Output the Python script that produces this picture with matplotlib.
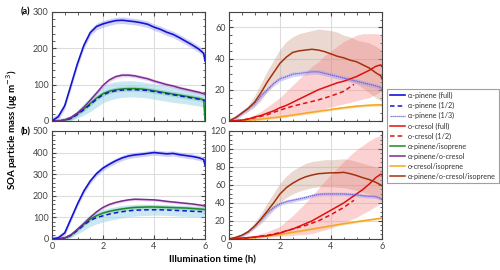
import numpy as np
import matplotlib
matplotlib.use("Agg")
import matplotlib.pyplot as plt
from matplotlib.ticker import MultipleLocator
from matplotlib.lines import Line2D

plt.rcParams["font.family"] = ["Lato", "DejaVu Sans"]

# time grid (h)
t = [0, 0.25, 0.5, 0.75, 1.0, 1.25, 1.5, 1.75, 2.0, 2.25, 2.5, 2.75, 3.0,
     3.25, 3.5, 3.75, 4.0, 4.25, 4.5, 4.75, 5.0, 5.25, 5.5, 5.75, 5.95, 6.0]
t_half = [0, 0.5, 1.0, 1.5, 2.0, 2.5, 3.0, 3.5, 4.0, 4.5, 4.9]

# ---- panel (a), left ----
apin_full_a = [0, 12, 42, 100, 158, 208, 243, 260, 267, 272, 276, 277, 275,
               273, 270, 266, 258, 252, 244, 238, 229, 219, 209, 198, 186, 165]
apin_cres_a = [0, 0, 3, 10, 22, 38, 57, 77, 98, 113, 122, 126, 126,
               124, 120, 116, 110, 105, 100, 96, 91, 87, 83, 79, 75, 73]
apin_iso_a = [0, 0, 2, 8, 20, 33, 48, 63, 75, 82, 86, 88, 89,
              89, 88, 86, 83, 80, 77, 74, 71, 68, 65, 62, 58, 0]
apin_half_a = [0, 0, 2, 7, 18, 31, 45, 60, 72, 79, 83, 85, 86,
               86, 85, 84, 81, 78, 75, 72, 69, 66, 63, 60, 57, 55]
half_lo_a = [0, 0, 0, 2, 8, 16, 26, 38, 50, 57, 62, 65, 66,
             66, 65, 63, 60, 57, 54, 51, 49, 47, 44, 41, 38, 36]
half_hi_a = [0, 0, 5, 14, 30, 48, 66, 84, 96, 104, 108, 110, 111,
             110, 108, 105, 102, 99, 96, 93, 90, 87, 83, 78, 73, 70]

# ---- panel (a), right ----
brown_a = [0, 2, 5, 8, 12, 18, 25, 31, 37, 41, 44, 45, 45.5,
           46, 45.5, 44.5, 43, 41.5, 40.5, 39, 38, 36, 34, 31, 29, 27]
brown_lo_a = [0, 1.5, 4, 6, 9, 13, 19, 24, 28, 30, 31, 32, 32,
              32, 32, 31, 30, 29, 27, 25.5, 24, 21, 18, 15, 13, 12]
brown_hi_a = [0, 2.5, 6, 10, 16, 24, 32, 39, 46, 51, 54, 56, 57,
              58, 59, 58.5, 58, 57, 55, 54, 52, 51, 50, 48, 46, 44]
apin_third_a = [0, 2, 5, 8, 11, 16, 20, 24, 27, 28.5, 30, 30.5, 31,
                31.5, 31.5, 30.5, 29.5, 28.5, 27.5, 26.5, 25.5, 24.5, 23.5, 22.5, 21.5, 19]
cres_full_a = [0, 0.2, 0.5, 1.2, 2.5, 3.5, 5, 6.5, 8.5, 10, 12, 14, 16,
               18, 20, 21.5, 23, 24.5, 25.5, 27, 28.5, 30.5, 32.5, 35, 36, 35]
cres_lo_a = [0, 0, 0, 0.5, 1, 1.5, 2, 2.5, 3, 3.5, 4, 4.5, 5,
             6, 7, 8, 9, 10, 11, 12, 13, 14, 15, 17, 19, 20]
cres_hi_a = [0, 0.5, 1, 2, 4, 6, 9, 12, 15, 19, 23, 27, 31,
             35, 38, 42, 45, 48, 51, 53, 55, 56, 56, 56, 55.5, 55]
cres_half_a = [0, 0.5, 2, 4, 7, 9.5, 11.5, 13.5, 16, 19, 23.5]
cres_iso_a = [0, 0.1, 0.2, 0.4, 0.8, 1.2, 1.7, 2.1, 2.6, 3.2, 3.8, 4.4, 5,
              5.6, 6.2, 6.8, 7.4, 8, 8.5, 9, 9.5, 9.8, 10.1, 10.3, 10.4, 10.5]

# ---- panel (b), left ----
apin_full_b = [0, 5, 28, 95, 162, 222, 268, 303, 328, 346, 362, 375, 384,
               389, 392, 396, 400, 397, 394, 396, 390, 386, 382, 376, 368, 342]
apin_cres_b = [0, 0, 5, 20, 45, 72, 100, 126, 146, 160, 169, 176, 181,
               184, 183, 182, 181, 178, 174, 171, 168, 165, 162, 158, 154, 151]
apin_iso_b = [0, 0, 4, 18, 43, 68, 92, 108, 120, 128, 134, 139, 143,
              146, 147, 148, 148, 147, 146, 145, 144, 143, 141, 139, 137, 135]
apin_half_b = [0, 0, 4, 17, 40, 64, 86, 99, 107, 115, 121, 126, 130,
               133, 134, 135, 135, 135, 134, 133, 131, 130, 128, 127, 126, 125]
half_lo_b = [0, 0, 1, 8, 22, 40, 58, 70, 78, 86, 92, 98, 103,
             106, 108, 109, 110, 110, 109, 108, 106, 105, 103, 102, 101, 100]
half_hi_b = [0, 0, 7, 26, 58, 88, 114, 128, 136, 144, 150, 155, 158,
             160, 161, 161, 161, 160, 159, 158, 156, 155, 153, 152, 151, 150]

# ---- panel (b), right ----
brown_b = [0, 1.5, 4, 8, 14, 22, 31, 40, 50, 57, 62, 66, 69,
           71, 72.5, 73, 73.5, 73.5, 74, 72.5, 70.5, 68, 66, 63, 60, 59]
brown_lo_b = [0, 1, 3, 6, 11, 17, 24, 32, 40, 46, 50, 53, 55,
              57, 58, 58, 58, 57.5, 57, 55.5, 54, 52, 50, 47, 45, 44]
brown_hi_b = [0, 2, 5, 10, 18, 28, 40, 51, 62, 70, 76, 80, 84,
              86, 87, 88, 88, 88.5, 89, 88, 86, 84, 82, 80, 78, 77]
apin_third_b = [0, 1.5, 4, 8, 14, 21, 29, 35, 39, 41.5, 43, 44.5, 46,
                48, 49.5, 50, 50, 50, 50, 49.5, 49, 48, 47.5, 47, 45, 43]
cres_full_b = [0, 0.5, 1, 1.5, 2, 3, 3.5, 5, 6.5, 9, 11, 14, 17,
               20, 24, 28, 32, 36, 40, 45, 50, 55, 61, 68, 72, 71]
cres_lo_b = [0, 0, 0, 0.5, 1, 1.5, 2, 2.5, 3, 3.5, 4, 4.5, 5,
             6, 8, 10, 12, 15, 18, 21, 24, 28, 32, 36, 40, 42]
cres_hi_b = [0, 1, 2, 3, 4, 6, 8, 11, 14, 20, 26, 33, 40,
             48, 56, 64, 72, 79, 86, 93, 99, 104, 109, 113, 115, 114]
cres_half_b = [0, 0.5, 2, 4, 7, 11, 15, 20, 27, 35, 43]
cres_iso_b = [0, 0.3, 0.6, 1, 1.6, 2.4, 3.3, 4.2, 5.2, 6.3, 7.5, 8.6, 9.8,
              11, 12.2, 13.4, 14.6, 15.8, 16.9, 18, 19.2, 20.2, 21.2, 22.2, 23, 23.5]

# half-widths of the narrow uncertainty bands, per panel
bw_full = {"a": 9, "b": 12}
bw_cres = {"a": 5, "b": 6}
bw_iso = {"a": 7, "b": 9}
bw_third = {"a": 1.5, "b": 2}
bw_ciso = {"a": 0.8, "b": 1.2}

C_BLUE = "#1414d2"
C_THIRD = "#6a5ad0"
C_RED = "#e01010"
C_GREEN = "#1a8a2a"
C_PURPLE = "#7b2d8e"
C_ORANGE = "#f5a623"
C_BROWN = "#a3320c"

tt = np.array(t)


def band(ax, y, w, color, alpha):
    y = np.array(y, dtype=float)
    ax.fill_between(tt, y - w, y + w, color=color, alpha=alpha, lw=0)


def style(ax, ymax, ymaj, ymin, xlabels):
    ax.set_xlim(0, 6)
    ax.set_ylim(0, ymax)
    ax.xaxis.set_major_locator(MultipleLocator(2))
    ax.xaxis.set_minor_locator(MultipleLocator(0.5))
    ax.yaxis.set_major_locator(MultipleLocator(ymaj))
    ax.yaxis.set_minor_locator(MultipleLocator(ymin))
    ax.grid(True, which="major", color="#dddddd", lw=0.8)
    ax.set_axisbelow(True)
    ax.tick_params(which="both", direction="in", colors="#444444",
                   labelsize=6.5, top=True, right=True, pad=2.5)
    ax.tick_params(which="major", length=3)
    ax.tick_params(which="minor", length=1.8)
    if not xlabels:
        ax.tick_params(labelbottom=False)
    for s in ax.spines.values():
        s.set_color("#444444")
        s.set_linewidth(0.8)


fig = plt.figure(figsize=(5, 2.7), dpi=100)
axLa = fig.add_axes([0.104, 0.552, 0.306, 0.404])
axRa = fig.add_axes([0.458, 0.552, 0.306, 0.404])
axLb = fig.add_axes([0.104, 0.115, 0.306, 0.400])
axRb = fig.add_axes([0.458, 0.115, 0.306, 0.400])

for key, axL, axR, d in [
    ("a", axLa, axRa, dict(full=apin_full_a, cres=apin_cres_a, iso=apin_iso_a,
                          half=apin_half_a, hlo=half_lo_a, hhi=half_hi_a,
                          brown=brown_a, blo=brown_lo_a, bhi=brown_hi_a,
                          third=apin_third_a, cfull=cres_full_a, clo=cres_lo_a,
                          chi=cres_hi_a, chalf=cres_half_a, ciso=cres_iso_a)),
    ("b", axLb, axRb, dict(full=apin_full_b, cres=apin_cres_b, iso=apin_iso_b,
                          half=apin_half_b, hlo=half_lo_b, hhi=half_hi_b,
                          brown=brown_b, blo=brown_lo_b, bhi=brown_hi_b,
                          third=apin_third_b, cfull=cres_full_b, clo=cres_lo_b,
                          chi=cres_hi_b, chalf=cres_half_b, ciso=cres_iso_b)),
]:
    # left: alpha-pinene systems
    axL.fill_between(tt, d["hlo"], d["hhi"], color="#9fd6ea", alpha=0.55, lw=0)
    band(axL, d["iso"], bw_iso[key], "#6cbf94", 0.4)
    band(axL, d["cres"], bw_cres[key], "#c07ad2", 0.35)
    band(axL, d["full"], bw_full[key], "#7a7af0", 0.35)
    axL.plot(tt, d["iso"], color=C_GREEN, lw=1.1)
    axL.plot(tt, d["half"], color=C_BLUE, lw=1.1, ls=(0, (3, 2)))
    axL.plot(tt, d["cres"], color=C_PURPLE, lw=1.1)
    axL.plot(tt, d["full"], color=C_BLUE, lw=1.2)

    # right: o-cresol systems
    axR.fill_between(tt, d["blo"], d["bhi"], color="#c89a86", alpha=0.38, lw=0)
    axR.fill_between(tt, d["clo"], d["chi"], color="#f47c7c", alpha=0.35, lw=0)
    band(axR, d["third"], bw_third[key], "#a8a0ee", 0.5)
    band(axR, d["ciso"], bw_ciso[key], "#f8c870", 0.6)
    axR.plot(tt, d["ciso"], color=C_ORANGE, lw=1.1)
    axR.plot(t_half, d["chalf"], color=C_RED, lw=1.1, ls=(0, (3, 2)))
    axR.plot(tt, d["cfull"], color=C_RED, lw=1.1)
    axR.plot(tt, d["third"], color=C_THIRD, lw=0.9, ls=(0, (1, 0.6)))
    axR.plot(tt, d["brown"], color=C_BROWN, lw=1.1)

style(axLa, 300, 100, 20, False)
style(axRa, 70, 20, 5, False)
style(axLb, 500, 100, 20, True)
style(axRb, 120, 20, 5, True)

leg_items = [
    ("α-pinene (full)", C_BLUE, "-", 1.2),
    ("α-pinene (1/2)", C_BLUE, (0, (3, 2)), 1.1),
    ("α-pinene (1/3)", C_THIRD, (0, (1, 0.6)), 0.9),
    ("o-cresol (full)", C_RED, "-", 1.1),
    ("o-cresol (1/2)", C_RED, (0, (3, 2)), 1.1),
    ("α-pinene/isoprene", C_GREEN, "-", 1.1),
    ("α-pinene/o-cresol", C_PURPLE, "-", 1.1),
    ("o-cresol/isoprene", C_ORANGE, "-", 1.1),
    ("α-pinene/o-cresol/isoprene", C_BROWN, "-", 1.1),
]
hs = [Line2D([], [], color=c, ls=ls, lw=lw) for _, c, ls, lw in leg_items]
leg = fig.legend(hs, [l for l, *_ in leg_items], loc="upper left",
                 bbox_to_anchor=(0.774, 0.672), fontsize=5.2, frameon=True,
                 fancybox=False, handlelength=2.1, handletextpad=0.3,
                 borderpad=0.45, labelspacing=0.42, borderaxespad=0)
leg.get_frame().set_edgecolor("#888888")
leg.get_frame().set_linewidth(0.8)
for txt in leg.get_texts():
    txt.set_color("#333333")

fig.text(0.042, 0.955, "(a)", fontsize=6.5, fontweight="bold", va="center")
fig.text(0.042, 0.512, "(b)", fontsize=6.5, fontweight="bold", va="center")
fig.text(0.024, 0.52, "SOA particle mass (μg m$^{-3}$)", rotation=90,
         fontsize=7, fontweight="bold", ha="center", va="center")
fig.text(0.425, 0.037, "Illumination time (h)", fontsize=7,
         fontweight="bold", ha="center", va="center")

fig.savefig("out.png", dpi=100)
